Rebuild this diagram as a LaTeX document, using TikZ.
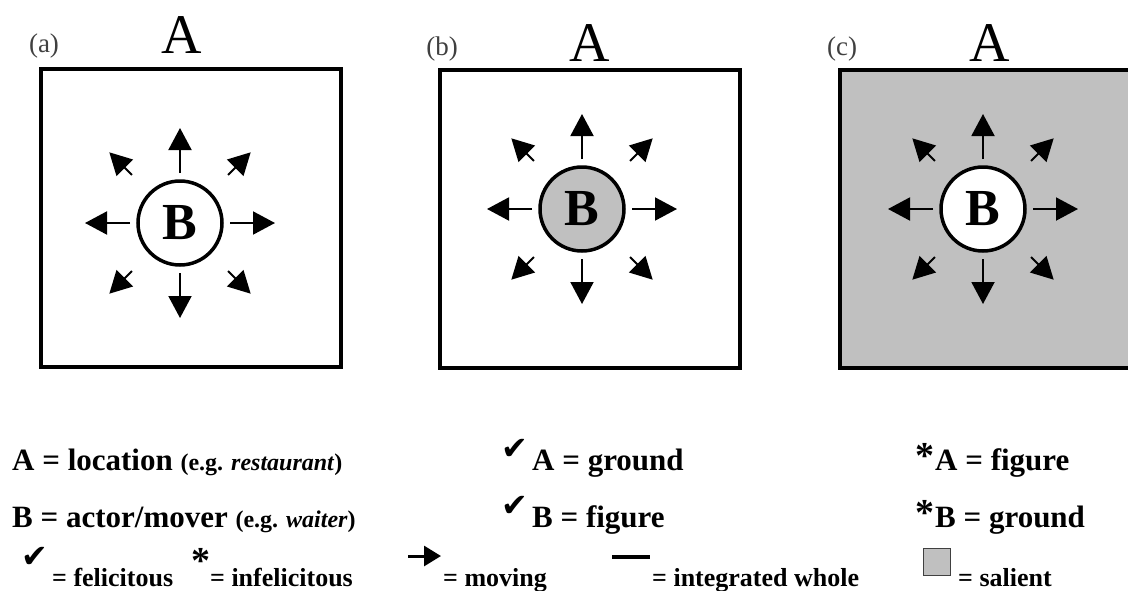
\documentclass[tikz,border=0pt]{standalone}
\usepackage{fontspec}
\setmainfont{Liberation Serif}
\newfontfamily\symfont{DejaVu Sans}
\usetikzlibrary{positioning,arrows.meta}
\definecolor{salientgray}{RGB}{192,192,192}
\newcommand{\fsize}[1]{\fontsize{#1}{#1}\selectfont}

\begin{document}
\begin{tikzpicture}[x=1pt, y=-1pt,
  every node/.style={inner sep=0pt},
  place/.style={draw, line width=4pt, minimum width=300pt, minimum height=298pt},
  actor/.style={circle, draw, line width=3.5pt, minimum size=84pt, fill=white, font=\bfseries\fsize{52}},
  moving/.style={line width=2pt, -{Triangle[length=22pt,width=23pt]}},
  legend/.style={anchor=base west, font=\bfseries\fsize{31}},
  keytext/.style={anchor=base west, font=\bfseries\fsize{26}},
  okmark/.style={font=\symfont\fsize{32}},
  badmark/.style={anchor=base, font=\bfseries\fsize{38}}]
  \useasboundingbox (0,0) rectangle (1128,590);

  % the three panels
  \node[place] (boxa) at (190.5,218) {};
  \node[place] (boxb) at (589.5,219) {};
  \node[place, fill=salientgray, minimum width=294pt] (boxc) at (987,219) {};

  \node[anchor=base, font=\fsize{27}, text=black!75] (taga) at (44,52) {(a)};
  \node[anchor=base, font=\fsize{27}, text=black!75] (tagb) at (442,55) {(b)};
  \node[anchor=base, font=\fsize{27}, text=black!75] (tagc) at (842,55) {(c)};

  \node[anchor=base, font=\fsize{56}] (Aa) at (182,53) {A};
  \node[anchor=base, font=\fsize{56}] (Ab) at (590,61) {A};
  \node[anchor=base, font=\fsize{56}] (Ac) at (990,61) {A};

  \node[actor] (Ba) at (180,223) {B};
  \node[actor, fill=salientgray] (Bb) at (582,209) {B};
  \node[actor] (Bc) at (983,209) {B};

  \foreach \b in {Ba,Bb,Bc}{
    \foreach \ang in {0,90,180,270}
      \draw[moving] ([shift={(\ang:50pt)}]\b.center) -- ([shift={(\ang:95pt)}]\b.center);
    \foreach \ang in {45,135,225,315}
      \draw[moving] ([shift={(\ang:68pt)}]\b.center) -- ([shift={(\ang:100pt)}]\b.center);
  }

  % legend
  \node[legend] (locA) at (12,470) {A = location {\fsize{24}(e.g. \textit{restaurant})}};
  \node[legend] (actB) at (12,527) {B = actor/mover {\fsize{24}(e.g. \textit{waiter})}};
  \node[okmark] (okA) at (515,449) {✔};
  \node[legend] (gndA) at (532,470) {A = ground};
  \node[okmark] (okB) at (515,506) {✔};
  \node[legend] (figB) at (532,527) {B = figure};
  \node[badmark] (noA) at (925,468) {*};
  \node[legend] (figA) at (935,470) {A = figure};
  \node[badmark] (noB) at (925,525) {*};
  \node[legend] (gndB) at (935,527) {B = ground};

  \node[okmark] (okkey) at (35,557) {✔};
  \node[keytext] (felic) at (52,586) {= felicitous};
  \node[badmark] (nokey) at (201,573) {*};
  \node[keytext] (infelic) at (210,586) {= infelicitous};
  \coordinate (mvtail) at (408,556);
  \coordinate (mvtip) at (441,556);
  \draw[line width=3pt, -{Triangle[length=17pt,width=20pt]}] (mvtail) -- (mvtip);
  \node[keytext] (movkey) at (443,586) {= moving};
  \coordinate (wholeL) at (612,557);
  \coordinate (wholeR) at (650,557);
  \draw[line width=4pt] (wholeL) -- (wholeR);
  \node[keytext] (wholekey) at (652,586) {= integrated whole};
  \node[draw=black!75, fill=salientgray, line width=1.5pt, minimum size=27pt] (salbox) at (937,562) {};
  \node[keytext] (salkey) at (958,586) {= salient};
\end{tikzpicture}
\end{document}
